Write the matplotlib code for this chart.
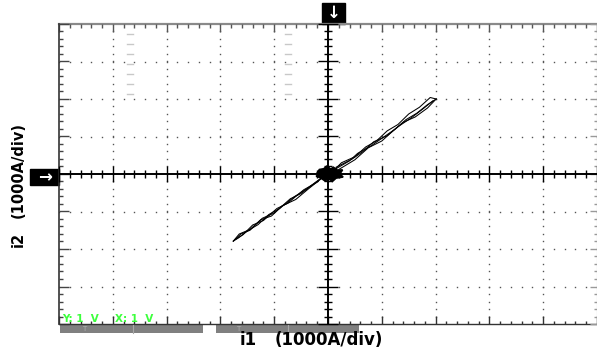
import numpy as np
import matplotlib
matplotlib.use("Agg")
import matplotlib.pyplot as plt
from matplotlib.collections import LineCollection
from matplotlib.patches import Rectangle

# Screen: 10 x 8 divisions, 5 minor ticks per division
n_x, n_y = 10, 8

# Traces (in divisions) - upper branch
up_x = [
    [0.10, 0.40, 0.55, 0.80, 1.00, 1.25, 1.45, 1.65, 1.85, 2.01],
    [2.01, 1.90, 1.70, 1.50, 1.30, 1.10, 0.90, 0.70, 0.50, 0.25, 0.10],
    [0.15, 0.45, 0.65, 0.85, 1.10, 1.30, 1.55, 1.75, 1.95],
    [0.20, 0.50, 0.75, 1.00, 1.20, 1.40, 1.62, 1.85, 2.01],
]
up_y = [
    [0.10, 0.35, 0.55, 0.75, 0.95, 1.20, 1.45, 1.62, 1.85, 2.00],
    [2.00, 2.04, 1.78, 1.60, 1.32, 1.15, 0.88, 0.72, 0.46, 0.30, 0.08],
    [0.18, 0.40, 0.60, 0.86, 1.02, 1.26, 1.50, 1.72, 1.95],
    [0.12, 0.38, 0.70, 0.88, 1.14, 1.38, 1.52, 1.76, 2.00],
]
# lower branch
lo_x = [
    [-0.10, -0.40, -0.62, -0.90, -1.10, -1.30, -1.50, -1.66, -1.76],
    [-1.76, -1.62, -1.45, -1.25, -1.05, -0.85, -0.60, -0.35, -0.12],
    [-0.18, -0.45, -0.75, -0.95, -1.20, -1.40, -1.58, -1.72],
    [-0.15, -0.50, -0.70, -1.00, -1.22, -1.45, -1.65, -1.76],
]
lo_y = [
    [-0.08, -0.40, -0.60, -0.92, -1.08, -1.35, -1.52, -1.70, -1.79],
    [-1.79, -1.60, -1.50, -1.22, -1.12, -0.85, -0.68, -0.38, -0.12],
    [-0.20, -0.42, -0.78, -0.92, -1.24, -1.36, -1.62, -1.74],
    [-0.14, -0.52, -0.66, -1.04, -1.18, -1.48, -1.60, -1.79],
]
# noise blob around the origin
blob_x = [-0.20, -0.16, -0.08, -0.02, 0.05, 0.10, 0.18, 0.27, 0.22, 0.28,
          0.15, 0.08, 0.02, -0.06, -0.14, -0.22, -0.17]
blob_y = [0.03, 0.12, 0.14, 0.21, 0.13, 0.18, 0.10, 0.11, 0.00, -0.08,
          -0.11, -0.20, -0.13, -0.18, -0.10, -0.06, -0.01]

fig = plt.figure(figsize=(5.97, 3.51), dpi=100)
W, H = 597, 351
ax = fig.add_axes([59 / W, 27 / H, 538 / W, 300 / H])
ax.set_xlim(-n_x / 2, n_x / 2)
ax.set_ylim(-n_y / 2, n_y / 2)
ax.axis("off")

px = n_x / 538.0   # one pixel in x divisions
py = n_y / 300.0   # one pixel in y divisions
x0, x1 = -n_x / 2, n_x / 2
y0, y1 = -n_y / 2, n_y / 2

# dotted graticule
dot_c = "#555555"
for k in range(-4, 5):
    if k == 0:
        continue
    yy = np.arange(y0, y1 + 0.01, 0.2)
    ax.plot(np.full_like(yy, k), yy, ls="none", marker="s", ms=1.0, mew=0, color=dot_c)
for k in range(-3, 4):
    if k == 0:
        continue
    xx = np.arange(x0, x1 + 0.01, 0.2)
    ax.plot(xx, np.full_like(xx, k), ls="none", marker="s", ms=1.0, mew=0, color=dot_c)


def ticks_x(ypos, lo, hi, minor, major, color, lw):
    segs = []
    for i, xv in enumerate(np.arange(x0, x1 + 0.01, 0.2)):
        m = major if i % 5 == 0 else minor
        segs.append([(xv, ypos + lo * m * py), (xv, ypos + hi * m * py)])
    ax.add_collection(LineCollection(segs, colors=color, linewidths=lw, clip_on=False))


def ticks_y(xpos, lo, hi, minor, major, color, lw):
    segs = []
    for i, yv in enumerate(np.arange(y0, y1 + 0.01, 0.2)):
        m = major if i % 5 == 0 else minor
        segs.append([(xpos + lo * m * px, yv), (xpos + hi * m * px, yv)])
    ax.add_collection(LineCollection(segs, colors=color, linewidths=lw, clip_on=False))


# borders
ax.plot([x0, x1], [y1, y1], color="#8a8a8a", lw=1.6, clip_on=False)
ticks_x(y1, -1, 0, 3.5, 8, "#555555", 1.0)
ax.plot([x0, x0], [y0, y1], color="#333333", lw=1.2, clip_on=False)
ticks_y(x0, 0, 1, 4, 10, "#444444", 1.0)
ax.plot([x0, x1], [y0, y0], color="#333333", lw=1.0, clip_on=False)
ticks_x(y0, 0, 1, 3.5, 8, "#333333", 1.0)
ax.plot([x1, x1], [y0, y1], color="#aaaaaa", lw=0.8, clip_on=False)
ticks_y(x1, -1, 0, 3, 7, "#999999", 1.0)

# centre axes
ax.plot([0, 0], [y0, y1], color="black", lw=1.4)
ticks_y(0, -1, 1, 4, 10, "black", 1.0)
ax.plot([x0, x1], [0, 0], color="black", lw=1.4)
ticks_x(0, -1, 1, 4, 8, "black", 1.0)

# faint marker dashes
for xc in (-5 + 71 * px, -5 + 229 * px):
    for j in range(7):
        yv = y1 - (10 + 10 * j) * py
        ax.plot([xc - 3 * px, xc + 3 * px], [yv, yv], color="#c8c8c8", lw=1.0)

# trace
for xs, ys in zip(up_x + lo_x, up_y + lo_y):
    ax.plot(xs, ys, color="black", lw=0.75)
ax.fill(blob_x, blob_y, color="black", lw=1.2, ec="black")

# bottom status bar
bar_c = "#808080"
for a, b in ((60, 203), (216, 359)):
    ax.add_patch(Rectangle((-5 + (a - 59) * px, y0 - 9 * py), (b - a) * px, 8 * py,
                           color=bar_c, clip_on=False, lw=0))
for xc in (133, 288):
    ax.plot([-5 + (xc - 59) * px] * 2, [y0 - 9 * py, y0 - 1 * py], color="#a8a8a8",
            lw=0.8, clip_on=False)
for xc in (84, 238):
    ax.text(-5 + (xc - 59) * px, y0 - 5 * py, "T", color="#b0b0b0", fontsize=5,
            ha="center", va="center", clip_on=False)

ax.text(-5 + 3 * px, y0 + 0.5 * py, "Y: 1  V", color="#3cff3c", fontsize=7.5,
        fontweight="bold", ha="left", va="bottom")
ax.text(-5 + 56 * px, y0 + 0.5 * py, "X: 1  V", color="#3cff3c", fontsize=7.5,
        fontweight="bold", ha="left", va="bottom")

# channel markers
ax.add_patch(Rectangle((-6 * px, y1), 23 * px, 21 * py, color="black", clip_on=False))
ax.text(5.5 * px, y1 + 11 * py, "\u2193", color="white", fontsize=12, fontweight="bold",
        ha="center", va="center", clip_on=False)
ax.add_patch(Rectangle((x0 - 29 * px, -11 * py), 29 * px, 16 * py, color="black",
                       clip_on=False))
ax.text(x0 - 14 * px, -3 * py, "\u2192", color="white", fontsize=12, fontweight="bold",
        ha="center", va="center", clip_on=False)

# axis labels
fig.text(18 / W, 1 - 239 / H, "i2", rotation=90, fontsize=10.5,
         fontweight="bold", ha="center", va="center")
fig.text(18 / W, 1 - 170 / H, "(1000A/div)", rotation=90, fontsize=10.5,
         fontweight="bold", ha="center", va="center")
fig.text(240 / W, 1 - 340 / H, "i1", fontsize=12, fontweight="bold",
         ha="left", va="center")
fig.text(275 / W, 1 - 340 / H, "(1000A/div)", fontsize=12, fontweight="bold",
         ha="left", va="center")

fig.savefig("out.png", dpi=100)
